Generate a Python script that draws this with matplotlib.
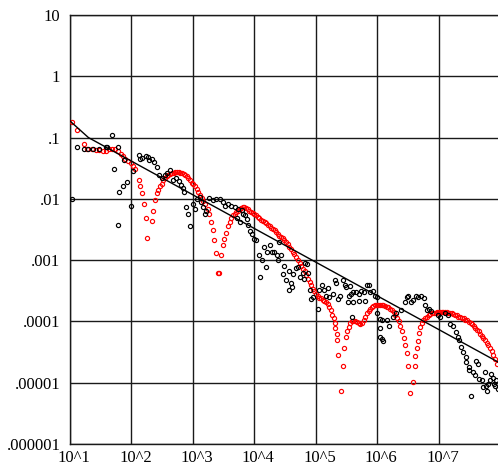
import numpy as np
import matplotlib
matplotlib.use("Agg")
import matplotlib.pyplot as plt
from matplotlib.transforms import ScaledTranslation

plt.rcParams.update({
    "font.family": ["Liberation Serif", "DejaVu Serif"],
    "font.size": 12,
})

# ---- data (log10 of x and y) ----
RED_LOGX = [
    1.04, 1.11, 1.23, 1.28, 1.36, 1.42, 1.47, 1.53, 1.58, 1.64, 1.69, 1.74, 1.78, 1.83,
    1.87, 1.90, 1.94, 1.99, 2.02, 2.05, 2.12, 2.14, 2.18, 2.21, 2.24, 2.26, 2.33, 2.35,
    2.38, 2.41, 2.44, 2.47, 2.49, 2.52, 2.55, 2.58, 2.60, 2.63, 2.66, 2.69, 2.71, 2.74,
    2.77, 2.79, 2.82, 2.85, 2.87, 2.90, 2.92, 2.95, 2.98, 3.01, 3.04, 3.06, 3.09, 3.12,
    3.15, 3.17, 3.20, 3.24, 3.27, 3.30, 3.32, 3.35, 3.38, 3.41, 3.43, 3.46, 3.49, 3.51,
    3.54, 3.57, 3.60, 3.62, 3.65, 3.68, 3.70, 3.73, 3.76, 3.79, 3.81, 3.84, 3.87, 3.89,
    3.92, 3.95, 3.98, 4.00, 4.03, 4.06, 4.08, 4.11, 4.14, 4.17, 4.19, 4.22, 4.25, 4.27,
    4.30, 4.33, 4.36, 4.38, 4.41, 4.44, 4.46, 4.49, 4.52, 4.55, 4.57, 4.60, 4.63, 4.65,
    4.68, 4.71, 4.74, 4.76, 4.79, 4.82, 4.84, 4.87, 4.90, 4.93, 4.95, 4.98, 5.01, 5.03,
    5.06, 5.09, 5.12, 5.14, 5.17, 5.20, 5.22, 5.25, 5.27, 5.29, 5.31, 5.32, 5.34, 5.35,
    5.37, 5.41, 5.44, 5.46, 5.49, 5.51, 5.54, 5.56, 5.59, 5.61, 5.64, 5.67, 5.70, 5.72,
    5.75, 5.78, 5.81, 5.83, 5.86, 5.89, 5.91, 5.94, 5.97, 6.00, 6.02, 6.05, 6.08, 6.10,
    6.13, 6.16, 6.18, 6.21, 6.24, 6.27, 6.29, 6.32, 6.35, 6.38, 6.40, 6.43, 6.46, 6.48,
    6.50, 6.53, 6.58, 6.61, 6.62, 6.65, 6.66, 6.68, 6.70, 6.73, 6.75, 6.78, 6.81, 6.84,
    6.86, 6.89, 6.92, 6.95, 6.97, 7.00, 7.03, 7.05, 7.08, 7.11, 7.14, 7.16, 7.19, 7.22,
    7.24, 7.27, 7.30, 7.32, 7.35, 7.38, 7.41, 7.43, 7.46, 7.49, 7.52, 7.54, 7.57, 7.60,
    7.62, 7.65, 7.68, 7.71, 7.73, 7.76, 7.79, 7.81, 7.84, 7.87, 7.89, 7.92, 7.95,
]
RED_LOGY = [
    -0.74, -0.87, -1.10, -1.18, -1.19, -1.20, -1.21, -1.22, -1.22, -1.19, -1.18, -1.18, -1.22, -1.26,
    -1.30, -1.35, -1.38, -1.42, -1.46, -1.52, -1.69, -1.79, -1.91, -2.09, -2.32, -2.64, -2.36, -2.19,
    -2.02, -1.91, -1.86, -1.79, -1.75, -1.70, -1.66, -1.63, -1.61, -1.59, -1.58, -1.57, -1.56, -1.56,
    -1.56, -1.57, -1.58, -1.59, -1.61, -1.62, -1.66, -1.70, -1.74, -1.76, -1.79, -1.84, -1.89, -1.93,
    -1.98, -2.03, -2.09, -2.16, -2.24, -2.38, -2.51, -2.67, -2.89, -3.21, -3.21, -2.91, -2.76, -2.65,
    -2.56, -2.45, -2.38, -2.32, -2.27, -2.24, -2.21, -2.19, -2.17, -2.15, -2.14, -2.14, -2.15, -2.17,
    -2.19, -2.21, -2.23, -2.25, -2.27, -2.30, -2.32, -2.34, -2.36, -2.38, -2.40, -2.43, -2.45, -2.47,
    -2.49, -2.51, -2.54, -2.57, -2.60, -2.62, -2.64, -2.67, -2.70, -2.73, -2.78, -2.82, -2.86, -2.90,
    -2.95, -3.00, -3.05, -3.10, -3.14, -3.18, -3.25, -3.31, -3.36, -3.41, -3.47, -3.51, -3.56, -3.59,
    -3.61, -3.62, -3.65, -3.67, -3.69, -3.71, -3.76, -3.82, -3.89, -3.95, -4.02, -4.10, -4.20, -4.31,
    -4.54, -5.14, -4.72, -4.43, -4.26, -4.16, -4.09, -4.03, -4.00, -3.99, -4.00, -4.01, -4.03, -4.04,
    -4.03, -3.98, -3.93, -3.86, -3.83, -3.80, -3.77, -3.75, -3.74, -3.73, -3.73, -3.73, -3.74, -3.74,
    -3.75, -3.76, -3.77, -3.79, -3.82, -3.84, -3.89, -3.94, -3.99, -4.07, -4.16, -4.27, -4.38, -4.51,
    -4.72, -5.16, -4.99, -4.72, -4.56, -4.43, -4.32, -4.19, -4.09, -4.02, -3.98, -3.94, -3.92, -3.90,
    -3.88, -3.87, -3.86, -3.86, -3.85, -3.85, -3.85, -3.85, -3.85, -3.85, -3.85, -3.86, -3.86, -3.87,
    -3.88, -3.89, -3.90, -3.92, -3.93, -3.94, -3.95, -3.97, -3.98, -4.01, -4.03, -4.05, -4.08, -4.11,
    -4.14, -4.16, -4.20, -4.23, -4.27, -4.31, -4.35, -4.39, -4.44, -4.49, -4.55, -4.61, -4.69,
]
BLACK_LOGX = [
    1.04, 1.12, 1.23, 1.30, 1.37, 1.47, 1.58, 1.61, 1.68, 1.78, 1.72, 1.88, 1.92, 1.86,
    1.79, 1.78, 1.99, 2.02, 2.12, 2.14, 2.18, 2.23, 2.27, 2.29, 2.34, 2.37, 2.41, 2.45,
    2.50, 2.54, 2.58, 2.62, 2.67, 2.73, 2.77, 2.81, 2.84, 2.86, 2.89, 2.92, 2.95, 3.00,
    3.04, 3.06, 3.11, 3.13, 3.16, 3.19, 3.22, 3.27, 3.32, 3.38, 3.44, 3.49, 3.53, 3.57,
    3.62, 3.68, 3.72, 3.74, 3.76, 3.80, 3.81, 3.85, 3.88, 3.90, 3.93, 3.96, 3.99, 4.03,
    4.08, 4.10, 4.12, 4.15, 4.19, 4.20, 4.25, 4.29, 4.32, 4.37, 4.41, 4.44, 4.38, 4.49,
    4.47, 4.52, 4.56, 4.60, 4.62, 4.57, 4.63, 4.68, 4.71, 4.75, 4.79, 4.81, 4.82, 4.86,
    4.87, 4.90, 4.93, 4.95, 5.03, 5.06, 5.10, 5.14, 5.17, 5.20, 5.22, 5.28, 5.31, 5.33,
    5.36, 5.40, 5.44, 5.47, 5.50, 5.52, 5.54, 5.55, 5.58, 5.60, 5.61, 5.59, 5.65, 5.70,
    5.70, 5.74, 5.79, 5.81, 5.83, 5.87, 5.89, 5.94, 5.97, 6.00, 6.00, 6.04, 6.04, 6.05,
    6.08, 6.10, 6.08, 6.16, 6.20, 6.26, 6.31, 6.39, 6.45, 6.48, 6.51, 6.55, 6.59, 6.64,
    6.67, 6.72, 6.77, 6.78, 6.81, 6.84, 6.88, 6.99, 7.03, 7.11, 7.16, 7.18, 7.23, 7.28,
    7.32, 7.34, 7.37, 7.40, 7.44, 7.45, 7.49, 7.50, 7.56, 7.53, 7.61, 7.64, 7.60, 7.66,
    7.71, 7.75, 7.78, 7.72, 7.80, 7.83, 7.86, 7.88, 7.91, 7.94, 7.97, 7.79, 7.92,
]
BLACK_LOGY = [
    -2.01, -1.15, -1.18, -1.19, -1.19, -1.18, -1.16, -1.15, -0.95, -1.16, -1.52, -1.36, -1.72, -1.79,
    -1.89, -2.43, -2.11, -1.55, -1.29, -1.35, -1.34, -1.30, -1.32, -1.37, -1.35, -1.40, -1.48, -1.61,
    -1.66, -1.61, -1.57, -1.53, -1.70, -1.66, -1.71, -1.78, -1.83, -1.89, -2.13, -2.24, -2.44, -2.09,
    -2.17, -2.00, -1.97, -2.05, -2.13, -2.24, -2.19, -1.98, -2.02, -2.00, -2.00, -2.05, -2.11, -2.08,
    -2.11, -2.13, -2.32, -2.16, -2.38, -2.18, -2.25, -2.27, -2.33, -2.43, -2.52, -2.57, -2.65, -2.67,
    -2.92, -3.27, -3.00, -2.79, -3.12, -2.87, -2.76, -2.87, -2.87, -2.92, -2.70, -2.91, -2.99, -3.09,
    -3.22, -3.33, -3.48, -3.37, -3.44, -3.18, -3.23, -3.13, -3.11, -3.28, -3.21, -3.30, -3.05, -3.06,
    -3.21, -3.48, -3.63, -3.60, -3.80, -3.49, -3.40, -3.48, -3.58, -3.45, -3.60, -3.56, -3.33, -3.38,
    -3.63, -3.59, -3.33, -3.40, -3.44, -3.69, -3.58, -3.43, -3.55, -3.52, -3.69, -3.93, -3.52, -3.56,
    -3.66, -3.51, -3.52, -3.66, -3.40, -3.41, -3.52, -3.51, -3.58, -3.60, -3.87, -3.96, -4.10, -4.25,
    -4.28, -4.32, -3.98, -3.98, -4.07, -3.92, -3.86, -3.81, -3.69, -3.60, -3.59, -3.69, -3.65, -3.58,
    -3.60, -3.59, -3.61, -3.74, -3.81, -3.79, -3.83, -3.90, -3.93, -3.87, -3.90, -4.04, -4.08, -4.18,
    -4.26, -4.30, -4.42, -4.50, -4.58, -4.67, -4.74, -4.80, -4.83, -5.21, -4.65, -4.69, -4.88, -4.94,
    -4.95, -4.83, -5.05, -5.07, -5.02, -4.95, -4.86, -4.92, -5.02, -4.96, -5.10, -5.13, -5.06,
]
FIT_LOGX = [1.0, 1.30, 8.0]
FIT_LOGY = [-0.73, -1.0, -4.68]

X_TICKS = [1e1, 1e2, 1e3, 1e4, 1e5, 1e6, 1e7]
X_LABELS = ["10^1", "10^2", "10^3", "10^4", "10^5", "10^6", "10^7"]
Y_TICKS = [1e-6, 1e-5, 1e-4, 1e-3, 1e-2, 1e-1, 1, 10]
Y_LABELS = [".000001", ".00001", ".0001", ".001", ".01", ".1", "1", "10"]

fig = plt.figure(figsize=(4.98, 4.70), dpi=100)
ax = fig.add_axes([70 / 498, 26 / 470, 430 / 498, 429 / 470])
ax.set_xscale("log")
ax.set_yscale("log")

ax.plot(10 ** np.array(RED_LOGX), 10 ** np.array(RED_LOGY), ls="none", marker="o",
        ms=3.0, mfc="none", mec="#ff0000", mew=0.85, zorder=3)
ax.plot(10 ** np.array(BLACK_LOGX), 10 ** np.array(BLACK_LOGY), ls="none", marker="o",
        ms=3.0, mfc="none", mec="black", mew=0.85, zorder=4)
ax.plot(10 ** np.array(FIT_LOGX), 10 ** np.array(FIT_LOGY), color="black", lw=1.0, zorder=5)

ax.set_xlim(1e1, 1e8)
ax.set_ylim(1e-6, 10)
ax.set_xticks(X_TICKS)
ax.set_xticklabels(X_LABELS)
ax.set_yticks(Y_TICKS)
ax.set_yticklabels(Y_LABELS)
ax.minorticks_off()
ax.tick_params(length=0, labelsize=12, colors="black")
ax.tick_params(axis="x", pad=4)
ax.tick_params(axis="y", pad=7)
ax.grid(True, which="major", color="#1a1a1a", lw=1.0)
ax.set_axisbelow(True)
for sp in ax.spines.values():
    sp.set_color("#1a1a1a")
    sp.set_linewidth(1.0)
ax.spines["right"].set_visible(False)

shift = ScaledTranslation(4 / 100, 0, fig.dpi_scale_trans)
for lab in ax.get_xticklabels():
    lab.set_transform(lab.get_transform() + shift)

fig.savefig("out.png", dpi=100)
